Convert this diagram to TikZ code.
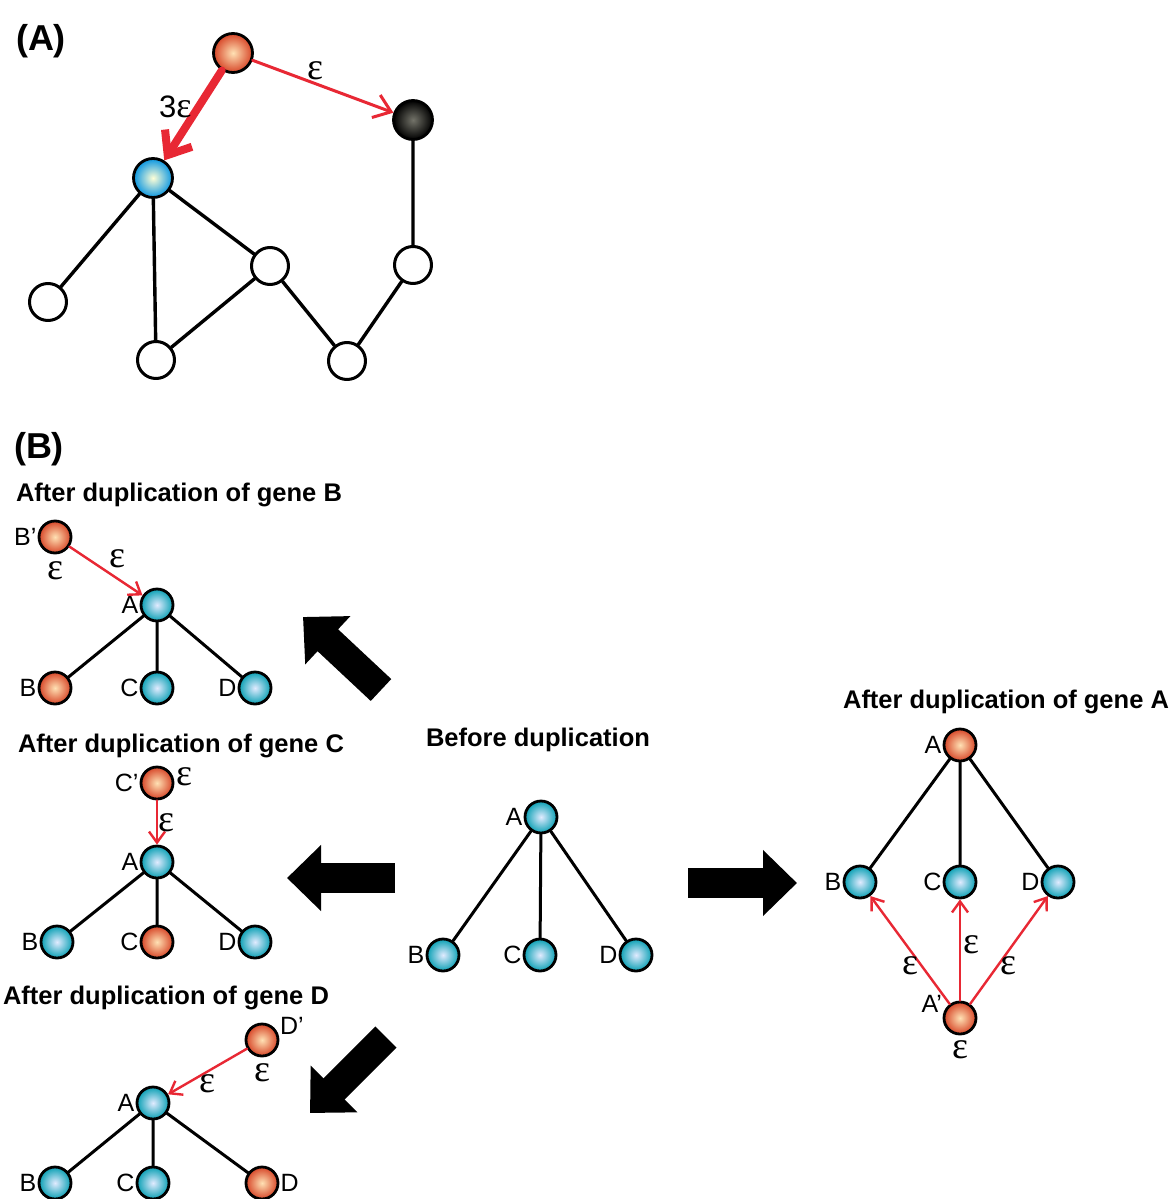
\documentclass[tikz,border=0pt]{standalone}
\usepackage{fontspec}
\setmainfont{Liberation Sans}
\newfontfamily\epsfont{Liberation Serif}
\usetikzlibrary{arrows.meta}
\definecolor{edgered}{RGB}{232,40,52}
\definecolor{redout}{RGB}{215,70,40}
\definecolor{redin}{RGB}{255,225,180}
\definecolor{cyanout}{RGB}{10,160,180}
\definecolor{cyanin}{RGB}{225,235,255}
\definecolor{blueout}{RGB}{10,150,225}
\definecolor{bluein}{RGB}{255,255,215}
\definecolor{blackin}{RGB}{115,115,105}
\tikzset{
	gene/.style={circle,draw=black,line width=2.8pt,minimum size=32pt,inner sep=0pt,shading=radial},
	rgene/.style={gene,inner color=redin,outer color=redout},
	cgene/.style={gene,inner color=cyanin,outer color=cyanout},
	wgene/.style={circle,draw=black,fill=white,line width=3pt,minimum size=37pt,inner sep=0pt},
	lbl/.style={inner sep=1pt,font=\fontsize{25}{25}\selectfont},
	eps/.style={inner sep=2pt,font=\epsfont\fontsize{38}{38}\selectfont},
	epsb/.style={eps,label distance=5pt},
	ttl/.style={font=\bfseries\fontsize{25.5}{28}\selectfont},
	link/.style={line width=3pt},
	dup/.style={edgered,line width=2.4pt,-{Straight Barb[length=11pt,width=16pt]}},
	bigarrow/.style={line width=30pt,line cap=butt,-{Triangle[length=34pt,width=64pt]}}
}
\begin{document}
\begin{tikzpicture}[x=1pt,y=-1pt,line join=round,line cap=round,font=\fontsize{25}{25}\selectfont]
	\path[use as bounding box,fill=white] (0,0) rectangle (1173,1199);
	%(A) tin hieu lan truyen
	\node[font=\bfseries\fontsize{36}{36}\selectfont] (tagA) at (41,41) {(A)};
	\foreach \n/\x/\y in {w1/48/302,w2/156/360,w3/270/266,w4/413/265,w5/347/361}{
		\node[wgene] (\n) at (\x,\y) {};}
	\node[gene,minimum size=39pt,inner color=redin,outer color=redout] (aR) at (233,53) {};
	\node[gene,minimum size=39pt,inner color=blackin,outer color=black] (aK) at (413,120) {};
	\node[gene,minimum size=39pt,inner color=bluein,outer color=blueout] (aB) at (153,178) {};
	\draw[link,line width=3.4pt] (aB)--(w1) (aB)--(w2) (aB)--(w3)--(w2) (w3)--(w5)--(w4)--(aK);
	\draw[edgered,line width=8pt,-{Straight Barb[length=20pt,width=32pt]}] (aR)--(aB) node[pos=.4,left=0pt,black,font=\fontsize{31}{31}\selectfont]{3{\epsfont\fontsize{36}{36}\selectfont ε}};
	\draw[edgered,line width=3pt,-{Straight Barb[length=16pt,width=24pt]}] (aR)--(aK) node[pos=.45,above=1pt,eps,black]{ε};
	%(B)
	\node[font=\bfseries\fontsize{36}{36}\selectfont] (tagB) at (39,449) {(B)};
	%gene B
	\node[ttl] (tB) at (179,495) {After duplication of gene B};
	\node[cgene,label={[lbl]left:A}] (bA) at (157,605) {};
	\node[rgene,label={[lbl]left:B}] (bB) at (55,688) {};
	\node[cgene,label={[lbl]left:C}] (bC) at (157,688) {};
	\node[cgene,label={[lbl]left:D}] (bD) at (255,688) {};
	\node[rgene,label={[lbl]left:B’},label={[eps,yshift=-5pt]below:ε}] (bBd) at (55,537) {};
	\draw[link] (bA)--(bB) (bA)--(bC) (bA)--(bD);
	\draw[dup] (bBd)--(bA) node[eps,midway,above right,black]{ε};
	%gene C
	\node[ttl] (tC) at (181,746) {After duplication of gene C};
	\node[cgene,label={[lbl]left:A}] (cA) at (157,862) {};
	\node[cgene,label={[lbl]left:B}] (cB) at (57,942) {};
	\node[rgene,label={[lbl]left:C}] (cC) at (157,942) {};
	\node[cgene,label={[lbl]left:D}] (cD) at (255,942) {};
	\node[rgene,label={[lbl]left:C’},label={[eps,yshift=6pt]right:ε}] (cCd) at (157,783) {};
	\draw[link] (cA)--(cB) (cA)--(cC) (cA)--(cD);
	\draw[dup] (cCd)--(cA) node[eps,midway,right=-2pt,black]{ε};
	%gene D
	\node[ttl] (tD) at (166,998) {After duplication of gene D};
	\node[cgene,label={[lbl]left:A}] (dA) at (153,1103) {};
	\node[cgene,label={[lbl]left:B}] (dB) at (55,1183) {};
	\node[cgene,label={[lbl]left:C}] (dC) at (153,1183) {};
	\node[rgene,label={[lbl]right:D}] (dD) at (262,1183) {};
	\node[rgene,label={[lbl]15:D’},label={[eps,yshift=-4pt]below:ε}] (dDd) at (262,1040) {};
	\draw[link] (dA)--(dB) (dA)--(dC) (dA)--(dD);
	\draw[dup] (dDd)--(dA) node[eps,midway,below,black]{ε};
	%truoc nhan doi
	\node[ttl] (tO) at (538,740) {Before duplication};
	\node[cgene,label={[lbl]left:A}] (oA) at (541,817) {};
	\node[cgene,label={[lbl]left:B}] (oB) at (443,955) {};
	\node[cgene,label={[lbl]left:C}] (oC) at (540,955) {};
	\node[cgene,label={[lbl]left:D}] (oD) at (636,955) {};
	\draw[link] (oA)--(oB) (oA)--(oC) (oA)--(oD);
	%gene A
	\node[ttl] (tA) at (1006,702) {After duplication of gene A};
	\node[rgene,label={[lbl]left:A}] (rA) at (960,745) {};
	\node[cgene,label={[lbl]left:B}] (rB) at (860,882) {};
	\node[cgene,label={[lbl]left:C}] (rC) at (960,882) {};
	\node[cgene,label={[lbl]left:D}] (rD) at (1058,882) {};
	\node[rgene,label={[lbl]165:A’},label={[eps,yshift=-3pt]below:ε}] (rAd) at (960,1018) {};
	\draw[link] (rA)--(rB) (rA)--(rC) (rA)--(rD);
	\draw[dup] (rAd)--(rB) node[eps,pos=.35,left,black]{ε};
	\draw[dup] (rAd)--(rC) node[eps,pos=.55,right,black]{ε};
	\draw[dup] (rAd)--(rD) node[eps,pos=.35,right,black]{ε};
	%mui ten lon
	\path (381,690) coordinate (tailB) (303,617) coordinate (tipB)
	(395,878) coordinate (tailC) (287,878) coordinate (tipC)
	(386,1037) coordinate (tailD) (310,1113) coordinate (tipD)
	(688,883) coordinate (tailA) (797,883) coordinate (tipA);
	\foreach \t in {B,C,D,A}{
		\draw[bigarrow] (tail\t)--(tip\t);}
\end{tikzpicture}
\end{document}
